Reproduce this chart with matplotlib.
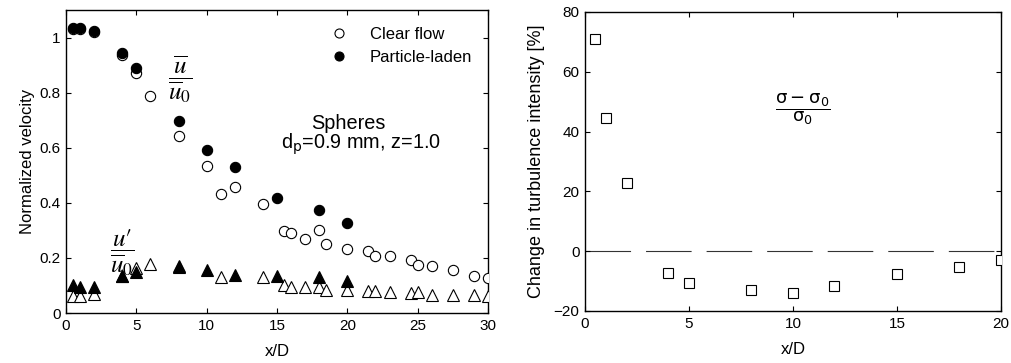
import matplotlib
matplotlib.use("Agg")
import matplotlib.pyplot as plt
from matplotlib.lines import Line2D

# ---------------- data ----------------
# Left panel: mean velocity (circles) and turbulence (triangles)
x_clear = [0.5, 1, 2, 4, 5, 6, 8, 10, 11, 12, 14, 15.5, 16, 17, 18, 18.5,
           20, 21.5, 22, 23, 24.5, 25, 26, 27.5, 29, 30]
u_clear = [1.03, 1.03, 1.02, 0.935, 0.872, 0.786, 0.643, 0.534, 0.433, 0.457,
           0.397, 0.299, 0.290, 0.269, 0.300, 0.251, 0.232, 0.224, 0.208,
           0.208, 0.193, 0.175, 0.169, 0.155, 0.136, 0.127]
x_clear_t = [0.5, 1, 2, 4, 5, 6, 8, 11, 14, 15.5, 16, 17, 18, 18.5,
             20, 21.5, 22, 23, 24.5, 25, 26, 27.5, 29, 30]
t_clear = [0.062, 0.062, 0.069, 0.135, 0.163, 0.178, 0.172, 0.129, 0.130,
           0.102, 0.096, 0.096, 0.096, 0.084, 0.084, 0.080, 0.080, 0.075,
           0.072, 0.075, 0.066, 0.066, 0.066, 0.060]
x_laden = [0.5, 1, 2, 4, 5, 8, 10, 12, 15, 18, 20]
u_laden = [1.033, 1.033, 1.024, 0.944, 0.890, 0.698, 0.592, 0.530, 0.416, 0.373, 0.327]
t_laden = [0.102, 0.096, 0.094, 0.136, 0.148, 0.167, 0.157, 0.139, 0.135, 0.130, 0.117]

left_yticks = [0, 0.2, 0.4, 0.6, 0.8, 1.0]
left_yticklabels = ["0", "0.2", "0.4", "0.6", "0.8", "1"]
left_xticks = [0, 5, 10, 15, 20, 25, 30]

# Right panel: change in turbulence intensity [%]
x_change = [0.5, 1, 2, 4, 5, 8, 10, 12, 15, 18, 20]
change = [70.9, 44.4, 22.7, -7.4, -10.5, -13.0, -13.9, -11.5, -7.7, -5.2, -2.9]
right_yticks = [-20, 0, 20, 40, 60, 80]
right_xticks = [0, 5, 10, 15, 20]

# ---------------- style ----------------
plt.rcParams['font.family'] = ['Liberation Sans', 'DejaVu Sans']
plt.rcParams['font.size'] = 11

fig = plt.figure(figsize=(10.12, 3.63), dpi=100)
ax1 = fig.add_axes([0.0652, 0.1377, 0.4170, 0.8348])
ax2 = fig.add_axes([0.5780, 0.1433, 0.4110, 0.8237])

def style_axes(ax):
    ax.tick_params(direction='in', top=True, right=True, length=3.5,
                   width=0.8, labelsize=11, pad=4)
    for s in ax.spines.values():
        s.set_linewidth(1.0)

# ---------------- left panel ----------------
ms = 7.4
ax1.plot(x_clear, u_clear, 'o', ms=ms, mfc='white', mec='black', mew=0.8,
         ls='none', zorder=3)
ax1.plot(x_clear_t, t_clear, '^', ms=ms + 0.6, mfc='white', mec='black', mew=0.8,
         ls='none', zorder=3)
ax1.plot(x_laden, u_laden, 'o', ms=ms, mfc='black', mec='black', mew=0.8,
         ls='none', zorder=4)
ax1.plot(x_laden, t_laden, '^', ms=ms + 0.6, mfc='black', mec='black', mew=0.8,
         ls='none', zorder=4)
ax1.set_xlim(0, 30)
ax1.set_ylim(0, 1.1)
ax1.set_xticks(left_xticks)
ax1.set_yticks(left_yticks)
ax1.set_yticklabels(left_yticklabels)
style_axes(ax1)
ax1.set_xlabel('x/D', fontsize=12, labelpad=8)
ax1.set_ylabel('Normalized velocity', fontsize=12, labelpad=3)

leg_handles = [
    Line2D([], [], marker='o', ls='none', ms=6.5, mfc='white', mec='black', mew=0.8),
    Line2D([], [], marker='o', ls='none', ms=6.5, mfc='black', mec='black', mew=0.8),
]
ax1.legend(leg_handles, ['Clear flow', 'Particle-laden'], loc='upper left',
           frameon=False, fontsize=12, handlelength=1.2, handletextpad=1.26,
           borderaxespad=0.0, borderpad=0.4, labelspacing=0.5,
           bbox_to_anchor=(0.607, 0.967))

ax1.text(8.1, 0.85, r'$\dfrac{\overline{u}}{\overline{u}_0}$', fontsize=18,
         math_fontfamily='stix', ha='center', va='center')
ax1.text(4.0, 0.22, "$\\dfrac{u\u2032}{\\overline{u}_0}$", fontsize=18,
         math_fontfamily='stix', ha='center', va='center')
ax1.text(20.04, 0.668, 'Spheres', fontsize=14.3, ha='center', va='baseline')
ax1.text(20.97, 0.595, r'd$_\mathrm{p}$=0.9 mm, z=1.0', fontsize=14.3,
         ha='center', va='baseline', math_fontfamily='dejavusans')

# ---------------- right panel ----------------
ax2.axhline(0, color='#333333', lw=0.8, ls=(0, (41, 13.5)), zorder=1)
ax2.plot(x_change, change, 's', ms=7.8, mfc='white', mec='black', mew=0.8,
         ls='none', zorder=3)
ax2.set_xlim(0, 20)
ax2.set_ylim(-20, 80)
ax2.set_xticks(right_xticks)
ax2.set_yticks(right_yticks)
style_axes(ax2)
ax2.set_xlabel('x/D', fontsize=12, labelpad=8)
ax2.set_ylabel('Change in turbulence intensity [%]', fontsize=13, labelpad=6)
ax2.text(10.5, 47.6, r'$\dfrac{\mathrm{\sigma - \sigma_0}}{\mathrm{\sigma_0}}$',
         fontsize=13, math_fontfamily='dejavusans', ha='center', va='center')

fig.savefig('out.png', dpi=100)
